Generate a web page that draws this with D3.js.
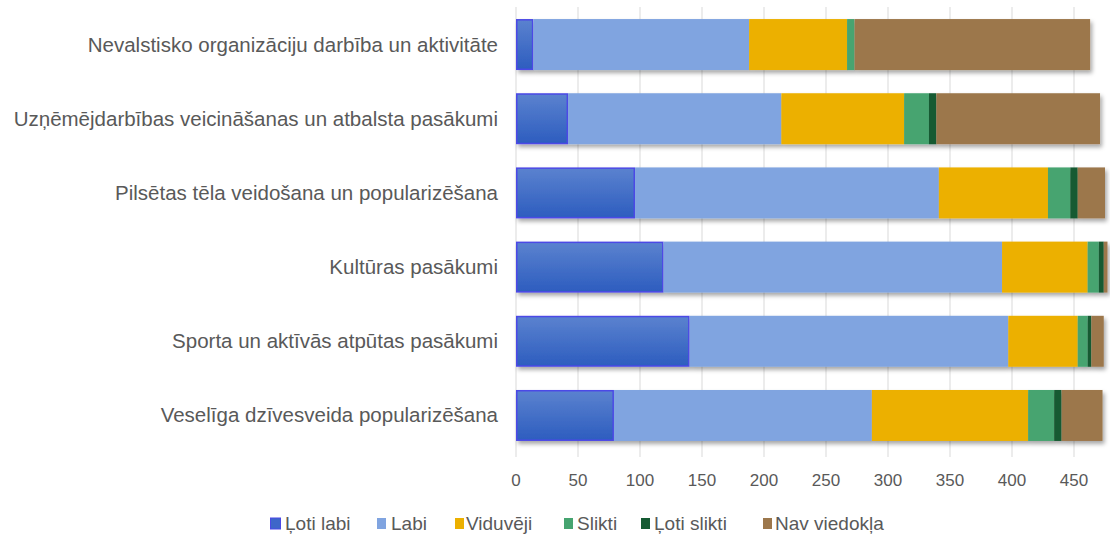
<!DOCTYPE html>
<html>
<head>
<meta charset="utf-8">
<script src="https://cdn.jsdelivr.net/npm/d3@7"></script>
<style>
body { margin: 0; background: #fff; }
text { font-family: "Liberation Sans", Arial, sans-serif; fill: #595959; }
</style>
</head>
<body>
<div class="canvas"></div>
<script>
// categories top to bottom
var categories = [
	"Nevalstisko organizāciju darbība un aktivitāte",
	"Uzņēmējdarbības veicināšanas un atbalsta pasākumi",
	"Pilsētas tēla veidošana un popularizēšana",
	"Kultūras pasākumi",
	"Sporta un aktīvās atpūtas pasākumi",
	"Veselīga dzīvesveida popularizēšana"
];
var series_names = ["Ļoti labi", "Labi", "Viduvēji", "Slikti", "Ļoti slikti", "Nav viedokļa"];
var series_colors = ["url(#grad_blue)", "#80a4e0", "#ecb000", "#46a470", "#155a32", "#9c774c"];
var legend_colors = ["#3d66c9", "#80a4e0", "#ecb000", "#46a470", "#155a32", "#9c774c"];

var loti_labi   = [14, 42, 96, 119, 140, 79];
var labi        = [174, 172, 245, 273, 257, 208];
var viduveji    = [79, 99, 88, 69, 56, 126];
var slikti      = [6, 20, 18, 9, 8, 21];
var loti_slikti = [0, 6, 6, 4, 3, 6];
var nav_viedokla = [190, 132, 22, 3, 10, 33];
var tick_values = [0, 50, 100, 150, 200, 250, 300, 350, 400, 450];

var fig_width = 1110, fig_height = 550;
var left_margin = 516;
var svg = d3.select("div.canvas").append("svg")
	.attr("width", fig_width).attr("height", fig_height);

var defs = svg.append("defs");
var grad = defs.append("linearGradient").attr("id", "grad_blue")
	.attr("x1", 0).attr("y1", 0).attr("x2", 0).attr("y2", 1);
grad.append("stop").attr("offset", "0%").attr("stop-color", "#5b82cf");
grad.append("stop").attr("offset", "100%").attr("stop-color", "#2d5dbf");
var shadow = defs.append("filter").attr("id", "shadow")
	.attr("x", "-5%").attr("y", "-20%").attr("width", "115%").attr("height", "160%");
shadow.append("feDropShadow").attr("dx", 2).attr("dy", 3).attr("stdDeviation", 2)
	.attr("flood-color", "#000").attr("flood-opacity", 0.35);

var data = categories.map(function(c, i) {
	return {cat: c, v: [loti_labi[i], labi[i], viduveji[i], slikti[i], loti_slikti[i], nav_viedokla[i]]};
});

var x = d3.scaleLinear().domain([0, 477]).range([left_margin, left_margin + 477 * 1.24]);
var y = d3.scaleBand().domain(categories).range([7.4, 452.6])
	.paddingInner(0.313).paddingOuter(0.157);

// gridlines
svg.append("g").selectAll("line").data(tick_values).enter().append("line")
	.attr("x1", function(d) { return x(d); })
	.attr("x2", function(d) { return x(d); })
	.attr("y1", 7).attr("y2", 457)
	.attr("stroke", "#d9d9d9").attr("stroke-width", 1);

// tick labels
svg.append("g").selectAll("text").data(tick_values).enter().append("text")
	.attr("x", function(d) { return x(d); })
	.attr("y", 486)
	.attr("text-anchor", "middle")
	.style("font-size", "17px")
	.text(function(d) { return d; });

// category labels
svg.append("g").selectAll("text").data(categories).enter().append("text")
	.attr("x", 498)
	.attr("y", function(d) { return y(d) + y.bandwidth() / 2 + 7; })
	.attr("text-anchor", "end")
	.style("font-size", "20.5px")
	.text(function(d) { return d; });

// stacked bars
data.forEach(function(d) {
	var g = svg.append("g").attr("filter", "url(#shadow)");
	var acc = 0;
	d.v.forEach(function(val, k) {
		if (val <= 0) { return; }
		var r = g.append("rect")
			.attr("x", x(acc))
			.attr("y", y(d.cat))
			.attr("width", x(acc + val) - x(acc))
			.attr("height", y.bandwidth())
			.attr("fill", series_colors[k]);
		if (k == 0) {
			r.attr("stroke", "#4b48e6").attr("stroke-width", 1.5)
				.attr("x", x(acc) + 0.75).attr("y", y(d.cat) + 0.75)
				.attr("width", x(acc + val) - x(acc) - 1.5).attr("height", y.bandwidth() - 1.5);
		}
		acc += val;
	});
});

// legend
var swatch_x = [270, 377, 455, 564, 641, 763];
var label_x  = [285, 391, 466, 577, 654, 775];
var lg = svg.append("g");
series_names.forEach(function(n, k) {
	lg.append("rect")
		.attr("x", swatch_x[k] + (k == 0 ? 0.5 : 0)).attr("y", 518)
		.attr("width", k == 0 ? 10 : 9).attr("height", 11)
		.attr("fill", legend_colors[k])
		.attr("stroke", k == 0 ? "#4b48e6" : "none").attr("stroke-width", 1);
	lg.append("text")
		.attr("x", label_x[k]).attr("y", 530)
		.style("font-size", "19px")
		.text(n);
});
</script>
</body>
</html>
